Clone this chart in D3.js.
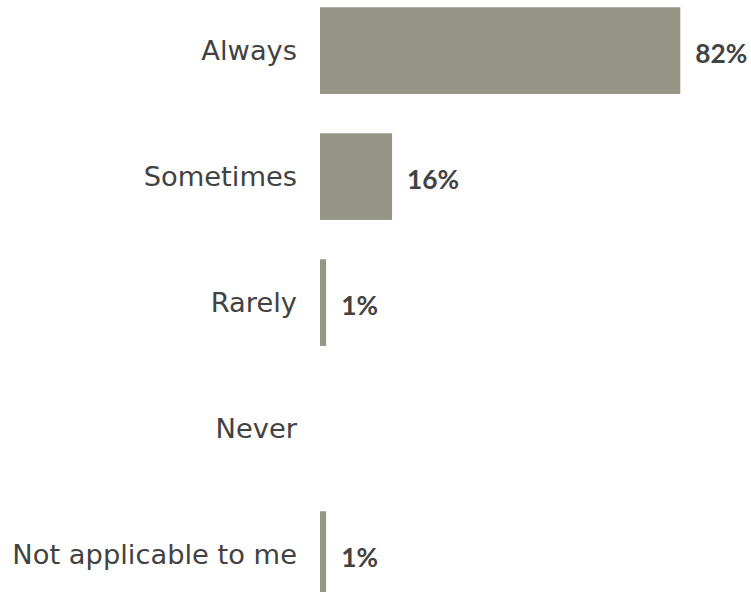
<!DOCTYPE html>
<html>
<head>
<meta charset="utf-8">
<script src="https://cdn.jsdelivr.net/npm/d3@7"></script>
<style>
  html, body { margin: 0; padding: 0; background: #ffffff; overflow: hidden; }
  svg { display: block; }
</style>
</head>
<body>
<svg id="chart" width="751" height="592"></svg>
<script>
// Data
const categories = ["Always", "Sometimes", "Rarely", "Never", "Not applicable to me"];
const values = [82, 16.4, 1.4, 0, 1.4];          // percent
const valueLabels = ["82%", "16%", "1%", "", "1%"];

const width = 751, height = 592;
const svg = d3.select("#chart");

const x = d3.scaleLinear().domain([0, 100]).range([320, 320 + 439.4]);
const y = d3.scaleBand()
  .domain(categories)
  .range([-12.4, -12.4 + 630])
  .paddingInner(0.312)
  .paddingOuter(0.156);

const barColor = "#979586";
const textColor = "#424242";

const rows = categories.map((c, i) => ({ cat: c, val: values[i], label: valueLabels[i] }));

svg.append("g").selectAll("rect")
  .data(rows.filter(d => d.val > 0))
  .join("rect")
  .attr("x", x(0))
  .attr("y", d => y(d.cat))
  .attr("width", d => x(d.val) - x(0))
  .attr("height", y.bandwidth())
  .attr("fill", barColor);

svg.append("g").selectAll("text")
  .data(rows)
  .join("text")
  .attr("x", 297)
  .attr("y", d => y(d.cat) + y.bandwidth() / 2)
  .attr("dy", "0.34em")
  .attr("text-anchor", "end")
  .attr("font-family", "'DejaVu Sans', sans-serif")
  .attr("font-size", 27.3)
  .attr("fill", textColor)
  .text(d => d.cat);

svg.append("g").selectAll("text")
  .data(rows.filter(d => d.label !== ""))
  .join("text")
  .attr("x", d => x(d.val) + 15)
  .attr("y", d => y(d.cat) + y.bandwidth() / 2)
  .attr("dy", "0.47em")
  .attr("font-family", "Lato, sans-serif")
  .attr("font-weight", "bold")
  .attr("font-size", 26.3)
  .attr("fill", textColor)
  .text(d => d.label);
</script>
</body>
</html>
